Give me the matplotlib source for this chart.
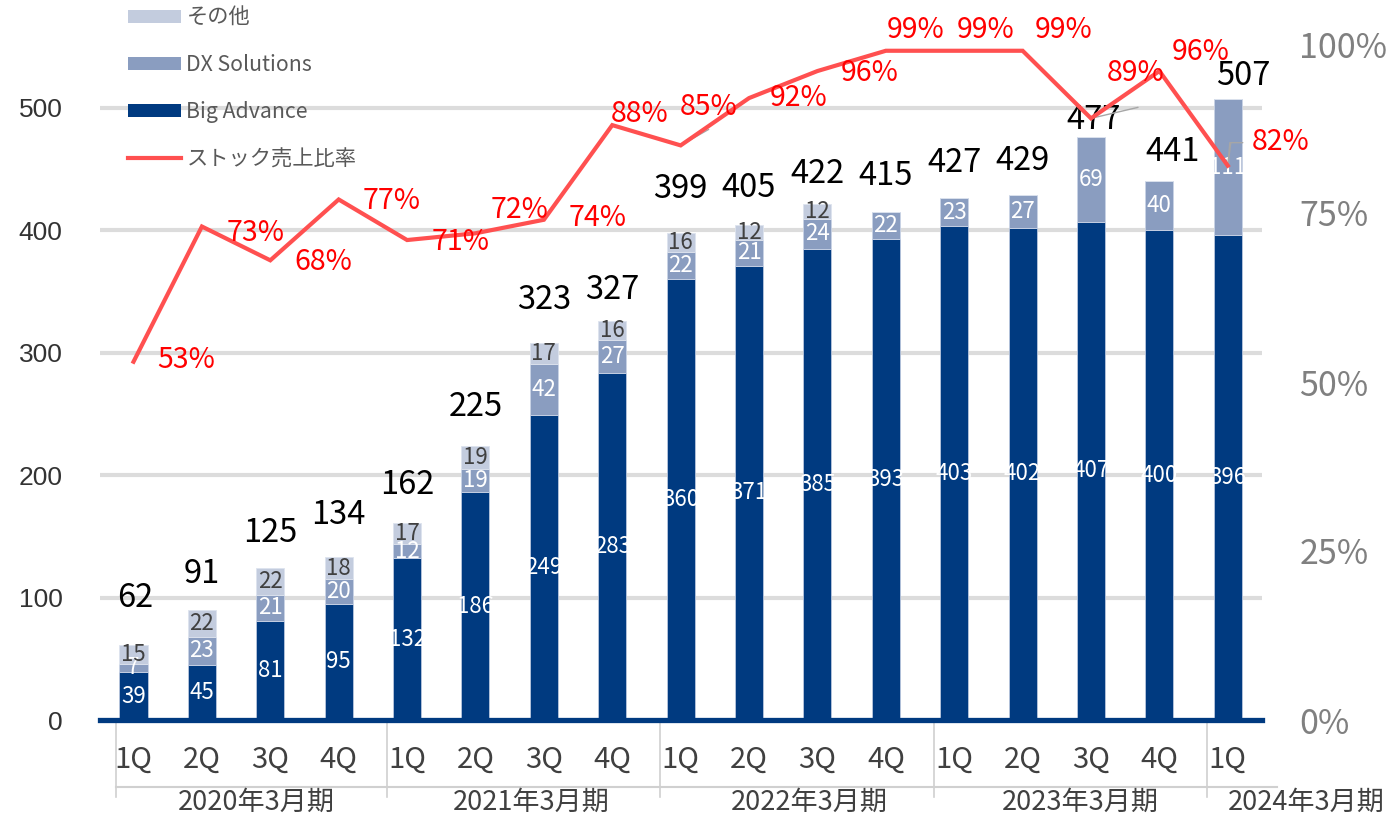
import matplotlib
matplotlib.use('Agg')
import matplotlib.pyplot as plt
import matplotlib.transforms as mtransforms
from matplotlib.patches import Patch
from matplotlib.lines import Line2D
from matplotlib.ticker import FuncFormatter

plt.rcParams['font.family'] = ['Noto Sans CJK JP', 'DejaVu Sans']

# ---------------- data ----------------
quarters = ['1Q', '2Q', '3Q', '4Q'] * 4 + ['1Q']
fiscal_years = ['2020年3月期', '2021年3月期', '2022年3月期', '2023年3月期', '2024年3月期']
big_advance = [39, 45, 81, 95, 132, 186, 249, 283, 360, 371, 385, 393, 403, 402, 407, 400, 396]
dx_solutions = [7, 23, 21, 20, 12, 19, 42, 27, 22, 21, 24, 22, 23, 27, 69, 40, 111]
other = [15, 22, 22, 18, 17, 19, 17, 16, 16, 12, 12, 0, 0, 0, 0, 0, 0]
totals = [62, 91, 125, 134, 162, 225, 323, 327, 399, 405, 422, 415, 427, 429, 477, 441, 507]
stock_ratio = [53, 73, 68, 77, 71, 72, 74, 88, 85, 92, 96, 99, 99, 99, 89, 96, 82]
left_ticks = [0, 100, 200, 300, 400, 500]
right_ticks = [0, 25, 50, 75, 100]

# ---------------- layout / style ----------------
C_BA = '#003A80'
C_DX = '#8A9DC0'
C_OT = '#C3CCDE'
C_LINE = '#FF5050'

W, H = 1391, 819
fig = plt.figure(figsize=(W / 100, H / 100), dpi=100)
ax = fig.add_axes([100 / W, 1 - 720 / H, 1162 / W, 676 / H])
ax2 = ax.twinx()

n = len(totals)
x = list(range(n))
bw = 0.41

# percent-label offsets (pixels) and total-label offsets
pct_dx = [53, 54, 53, 53, 54, 44, 54, 27, 28, 50, 52, 30, 31, 41, 45, 41, 53]
pct_dy = [2, -6, -2, -2, -2, 23, 2, 11, 38, 0, -2, 21, 21, 21, 45, 19, 24]
tot_dy = [46, 35, 34, 41, 37, 37, 24, 30, 42, 36, 29, 36, 34, 34, 16, 28, 23]
tot_dx = [2, 0, 0, 0, 0, 0, 0, 0, 0, 0, 0, 0, 0, 0, 3, 13, 15]

ax.set_xlim(-0.49, 16.5)
ax.set_ylim(0, 552)
ax2.set_ylim(0, 100)

# gridlines
for t in left_ticks[1:]:
    ax.axhline(t, color='#DCDCDC', lw=3, zorder=0)

bottoms2 = [a + b for a, b in zip(big_advance, dx_solutions)]
b1 = ax.bar(x, big_advance, bw, color=C_BA, edgecolor='#B9C6DE', lw=0.6, zorder=2)
b2 = ax.bar(x, dx_solutions, bw, bottom=big_advance, color=C_DX, edgecolor='#C9D3E6', lw=0.6, zorder=2)
b3 = ax.bar(x, other, bw, bottom=bottoms2, color=C_OT, edgecolor='#DDE3EE', lw=0.6, zorder=2)

def seg_label(bars, vals, bottoms, color):
    for rect, v, b in zip(bars, vals, bottoms):
        if v <= 0:
            continue
        t = ax.text(rect.get_x() + rect.get_width() / 2, b + v / 2, str(v),
                    ha='center', va='center', fontsize=16, color=color, zorder=3)
        t.set_clip_path(rect)

seg_label(b1, big_advance, [0] * n, 'white')
seg_label(b2, dx_solutions, big_advance, 'white')
seg_label(b3, other, bottoms2, '#404040')

# totals
for i, tv in enumerate(totals):
    ax.annotate(str(tv), xy=(i, tv), xytext=(tot_dx[i], tot_dy[i]), textcoords='offset pixels',
                ha='center', va='center', fontsize=23.5, color='black', zorder=4)

# baseline
ax.axhline(0, color=C_BA, lw=3.8, zorder=3, clip_on=False)

# ratio line
ax2.plot(x, stock_ratio, color=C_LINE, lw=3, zorder=5, solid_joinstyle='miter')
for i, v in enumerate(stock_ratio):
    ax2.annotate(f'{v}%', xy=(i, v), xytext=(pct_dx[i], pct_dy[i]), textcoords='offset pixels',
                 ha='center', va='center', fontsize=20.5, color='#FF0000', zorder=6)

# small leader lines
for i, (ldx, ldy) in [(8, (28, 16)), (14, (47, 11))]:
    ax2.annotate('', xy=(i, stock_ratio[i]), xytext=(ldx, ldy), textcoords='offset pixels',
                 arrowprops=dict(arrowstyle='-', color='#A6A6A6', lw=1, shrinkA=0, shrinkB=0))
ax2.annotate('', xy=(16, stock_ratio[16]), xytext=(3, 23), textcoords='offset pixels',
             arrowprops=dict(arrowstyle='-', color='#A6A6A6', lw=1, shrinkA=0, shrinkB=0))
ax2.annotate('', xy=(16, stock_ratio[16]), xytext=(15, 23), textcoords='offset pixels',
             arrowprops=dict(arrowstyle='-', color='#A6A6A6', lw=1, shrinkA=0, shrinkB=0,
                             connectionstyle='angle,angleA=0,angleB=85,rad=0'))

# axes styling
for a in (ax, ax2):
    for s in a.spines.values():
        s.set_visible(False)
ax.set_xticks([])
ax.set_yticks(left_ticks)
ax.tick_params(axis='y', length=0, pad=27, labelsize=19, labelcolor='#333333')
for lab in ax.get_yticklabels():
    lab.set_fontfamily(['Liberation Sans', 'DejaVu Sans'])
ax2.set_yticks(right_ticks)
ax2.yaxis.set_major_formatter(FuncFormatter(lambda v, p: f'{int(v)}%'))
ax2.tick_params(axis='y', length=0, pad=27, labelsize=24.5, labelcolor='#808080')

# category axis
trans = mtransforms.blended_transform_factory(ax.transData, ax.transAxes)
for i, q in enumerate(quarters):
    ax.text(i, -0.059, q, transform=trans, ha='center', va='center', fontsize=21,
            color='#404040', clip_on=False)
seps = [-0.25, 3.7, 7.7, 11.7, 15.7]
for s in seps:
    ax.plot([s, s], [-0.004, -0.114], transform=trans, color='#D0D0D0', lw=1.2, clip_on=False)
ax.plot([-0.25, 16.72], [-0.099, -0.099], transform=trans, color='#D0D0D0', lw=1.5, clip_on=False)
year_x = [1.8, 5.82, 9.88, 13.85, 17.15]
for xx, yl in zip(year_x, fiscal_years):
    ax.text(xx, -0.121, yl, transform=trans, ha='center', va='center', fontsize=19.5,
            color='#404040', clip_on=False)

# legend
handles = [Patch(facecolor=C_OT), Patch(facecolor=C_DX), Patch(facecolor=C_BA),
           Line2D([0], [0], color=C_LINE, lw=3)]
labels = ['その他', 'DX Solutions', 'Big Advance', 'ストック売上比率']
leg = fig.legend(handles, labels, loc='upper left', bbox_to_anchor=(128 / W, 1 - 7 / H),
                 frameon=False, fontsize=15.3, handlelength=2.5, handleheight=0.57,
                 handletextpad=0.25, labelspacing=1.18, borderpad=0, borderaxespad=0)
for t in leg.get_texts():
    t.set_color('#595959')

fig.savefig('out.png', dpi=100)
